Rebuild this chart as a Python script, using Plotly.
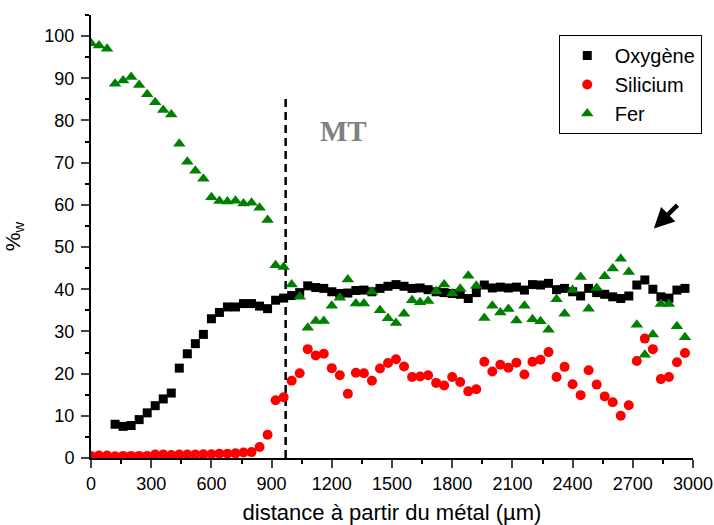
import plotly.graph_objects as go

# distance (µm)
dist_all = [0, 40, 80, 120, 160, 200, 240, 280, 320, 360, 400, 440, 480, 520, 560, 600,
            640, 680, 720, 760, 800, 840, 880, 920, 960, 1000, 1040, 1080, 1120, 1160,
            1200, 1240, 1280, 1320, 1360, 1400, 1440, 1480, 1520, 1560, 1600, 1640, 1680,
            1720, 1760, 1800, 1840, 1880, 1920, 1960, 2000, 2040, 2080, 2120, 2160, 2200,
            2240, 2280, 2320, 2360, 2400, 2440, 2480, 2520, 2560, 2600, 2640, 2680, 2720,
            2760, 2800, 2840, 2880, 2920, 2960]
dist_oxy = dist_all[3:]

oxygene = [8.0, 7.5, 7.7, 9.1, 10.7, 12.4, 14.0, 15.4, 21.3, 24.7, 27.1, 29.3, 33.0, 34.5,
           35.8, 35.8, 36.6, 36.6, 36.0, 35.4, 37.4, 37.9, 38.5, 39.2, 40.8, 40.4, 40.2,
           39.4, 39.0, 39.1, 39.7, 39.8, 39.4, 40.2, 40.7, 41.1, 40.7, 40.2, 40.3, 39.9,
           39.4, 39.2, 39.0, 38.8, 37.8, 39.2, 41.0, 40.3, 40.5, 40.3, 40.5, 39.8, 41.1,
           41.0, 41.4, 39.9, 40.2, 39.4, 38.4, 40.2, 39.2, 38.8, 38.2, 37.8, 38.4, 41.0,
           42.2, 40.0, 38.2, 37.9, 39.8, 40.2]

silicium = [0.5, 0.6, 0.6, 0.4, 0.5, 0.5, 0.5, 0.5, 0.8, 0.8, 0.7, 0.8, 0.8, 0.8, 0.9, 0.9,
            1.0, 1.0, 1.1, 1.3, 1.4, 2.6, 5.5, 13.7, 14.4, 18.3, 20.1, 25.8, 24.3, 24.7,
            21.3, 19.6, 15.2, 20.2, 20.1, 18.3, 21.2, 22.5, 23.4, 21.7, 19.2, 19.3, 19.6,
            17.8, 17.2, 19.2, 18.0, 15.8, 16.3, 22.8, 20.5, 22.1, 21.4, 22.6, 19.8, 22.8,
            23.3, 25.1, 19.2, 21.6, 17.5, 14.9, 20.8, 17.4, 14.6, 13.2, 10.0, 12.5, 23.0,
            28.3, 25.8, 18.7, 19.2, 22.7, 24.9]

fer = [98.3, 97.8, 97.0, 88.7, 89.5, 90.3, 88.4, 86.2, 84.3, 82.5, 81.4, 74.5, 70.2, 68.1,
       66.2, 61.8, 60.9, 60.8, 61.0, 60.3, 60.5, 59.3, 56.4, 45.7, 45.3, 41.1, 38.2, 30.9,
       32.5, 32.5, 36.1, 38.0, 42.3, 36.6, 36.6, 39.4, 35.0, 33.1, 32.0, 34.2, 37.4, 36.9,
       37.2, 39.5, 41.1, 39.0, 40.1, 43.2, 40.8, 33.2, 36.1, 34.5, 35.3, 32.6, 36.1, 32.9,
       32.4, 30.4, 37.6, 34.2, 39.8, 42.9, 35.4, 40.3, 43.1, 44.9, 47.2, 44.1, 31.6, 24.5,
       29.3, 36.5, 36.5, 31.2, 28.6]

# boundary line (MT)
mt_x = [970, 970]
mt_y = [0, 85.5]

x_ticks = [0, 300, 600, 900, 1200, 1500, 1800, 2100, 2400, 2700, 3000]
y_ticks = [0, 10, 20, 30, 40, 50, 60, 70, 80, 90, 100]

FONT = "Liberation Sans, Arial, sans-serif"

fig = go.Figure()
fig.add_trace(go.Scatter(x=mt_x, y=mt_y, mode="lines", showlegend=False,
                         line=dict(color="black", width=2.5, dash="8px,5px"),
                         hoverinfo="skip"))
fig.add_trace(go.Scatter(x=dist_oxy, y=oxygene, mode="markers", name="Oxygène",
                         marker=dict(symbol="square", size=9, color="black")))
fig.add_trace(go.Scatter(x=dist_all, y=silicium, mode="markers", name="Silicium",
                         marker=dict(symbol="circle", size=10, color="#ff0000")))
fig.add_trace(go.Scatter(x=dist_all, y=fer, mode="markers", name="Fer",
                         marker=dict(symbol="triangle-up", size=11, color="#008000")))

fig.add_annotation(x=1260, y=77.5, xref="x", yref="y", text="<b>MT</b>", showarrow=False,
                   font=dict(family="Liberation Serif, Times New Roman, serif", size=29,
                             color="#808080"))
fig.add_annotation(x=2805, y=54.4, ax=2930, ay=60.3, xref="x", yref="y", axref="x", ayref="y",
                   text="", showarrow=True, arrowhead=2, arrowsize=0.9, arrowwidth=4.5,
                   arrowcolor="black")

fig.update_layout(
    width=714, height=525,
    margin=dict(l=91, r=21, t=15, b=67, autoexpand=False),
    paper_bgcolor="white", plot_bgcolor="white",
    font=dict(family=FONT, size=18, color="black"),
    showlegend=True,
    legend=dict(x=0.777, y=0.955, xanchor="left", yanchor="top", itemwidth=45,
                bordercolor="black", borderwidth=1, bgcolor="white",
                font=dict(family=FONT, size=20, color="black")),
    xaxis=dict(range=[0, 3000], tickvals=x_ticks, ticks="outside", ticklen=8, tickwidth=2,
               showline=True, linecolor="black", linewidth=2, showgrid=False, zeroline=False,
               tickfont=dict(size=18), ticklabeloverflow="allow",
               minor=dict(dtick=150, ticks="outside", ticklen=4, tickwidth=2, tickcolor="black"),
               title=dict(text="distance à partir du métal (µm)", font=dict(size=22), standoff=12)),
    yaxis=dict(range=[0, 105], tickvals=y_ticks, ticks="outside", ticklen=8, tickwidth=2,
               showline=True, linecolor="black", linewidth=2, showgrid=False, zeroline=False,
               tickfont=dict(size=18), ticklabelstandoff=3,
               minor=dict(dtick=5, ticks="outside", ticklen=4, tickwidth=2, tickcolor="black"),
               title=dict(text="%<sub>w</sub>", font=dict(size=21), standoff=18)),
)

fig.write_html("out.html", config={"displayModeBar": False},
               post_script="document.body.style.margin='0';")
